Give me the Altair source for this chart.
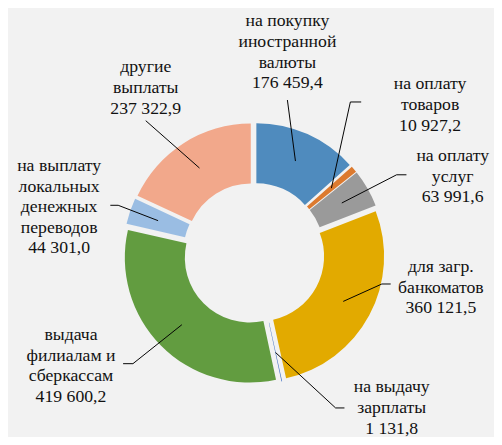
import altair as alt
import pandas as pd

# ---- data ----
categories = [
    "на покупку\nиностранной\nвалюты",
    "на оплату\nтоваров",
    "на оплату\nуслуг",
    "для загр.\nбанкоматов",
    "на выдачу\nзарплаты",
    "выдача\nфилиалам и\nсберкассам",
    "на выплату\nлокальных\nденежных\nпереводов",
    "другие\nвыплаты",
]
values = [176459.4, 10927.2, 63991.6, 360121.5, 1131.8, 419600.2, 44301.0, 237322.9]
colors = ["#4F8BBE", "#DC7A2F", "#9A9A9A", "#E2AA00", "#4472C4", "#629C40", "#9ABDE3", "#F2A88B"]

# ---- layout (page pixel positions: first text line of each label, leader-line elbows/ends) ----
label_x = [292, 437, 460, 448, 398, 72, 60, 148]
label_y = [18, 82, 155, 268, 390, 337, 165, 65]
elbow_x = [292, 356, 403, 388, 341, 135, 120, 148]
elbow_y = [98, 100, 174, 285, 411, 366, 205, 119]
end_x = [292, 367, 413, 397, 350, 125, 112, 148]
end_y = [98, 100, 174, 285, 411, 366, 205, 119]

M = 8  # page margin
CX, CY = 258 - M, 254 - M
R_IN, R_OUT = 66, 127
R_LEAD = 97
EXPLODE = 6

FONT = "Liberation Serif"


def fmt(v):
    s = f"{v:,.1f}"
    return s.replace(",", " ").replace(".", ",")


df = pd.DataFrame({
    "idx": list(range(len(values))),
    "cat": categories,
    "value": values,
    "label": [c + "\n" + fmt(v) for c, v in zip(categories, values)],
    "lx": [x - M for x in label_x],
    "ly": [y - M for y in label_y],
    "ex": [x - M for x in elbow_x],
    "ey": [y - M for y in elbow_y],
    "hx": [x - M for x in end_x],
    "hy": [y - M for y in end_y],
})

cscale = alt.Scale(domain=categories, range=colors)

geo = alt.Chart(df).transform_window(
    cum="sum(value)", sort=[alt.SortField("idx")], frame=[None, 0]
).transform_joinaggregate(
    total="sum(value)"
).transform_calculate(
    a0="2*PI*(datum.cum - datum.value)/datum.total",
    a1="2*PI*datum.cum/datum.total",
    mid="2*PI*(datum.cum - datum.value/2)/datum.total",
).transform_calculate(
    cx=f"{CX} + {EXPLODE}*sin(datum.mid)",
    cy=f"{CY} - {EXPLODE}*cos(datum.mid)",
).transform_calculate(
    sx=f"datum.cx + {R_LEAD}*sin(datum.mid)",
    sy=f"datum.cy - {R_LEAD}*cos(datum.mid)",
)

arcs = geo.mark_arc(innerRadius=R_IN, outerRadius=R_OUT).encode(
    theta=alt.Theta("a0:Q", scale=None),
    theta2="a1:Q",
    x=alt.X("cx:Q", scale=None),
    y=alt.Y("cy:Q", scale=None),
    color=alt.Color("cat:N", scale=cscale, legend=None),
)

lead1 = geo.mark_rule(color="#000000", strokeWidth=1).encode(
    x=alt.X("sx:Q", scale=None),
    y=alt.Y("sy:Q", scale=None),
    x2="ex:Q",
    y2="ey:Q",
)
lead2 = geo.mark_rule(color="#000000", strokeWidth=1).encode(
    x=alt.X("ex:Q", scale=None),
    y=alt.Y("ey:Q", scale=None),
    x2="hx:Q",
    y2="hy:Q",
)

texts = alt.Chart(df).mark_text(
    font=FONT, fontSize=18, lineHeight=21, lineBreak="\n",
    align="center", baseline="middle", color="#111111",
).encode(
    x=alt.X("lx:Q", scale=None),
    y=alt.Y("ly:Q", scale=None),
    text="label:N",
)

chart = alt.layer(arcs, lead1, lead2, texts).properties(
    width=494, height=429, padding=0, autosize="none", background="#F2F2F2"
).configure_view(stroke=None)

chart.save("out.html", embed_options={"renderer": "svg", "actions": False})
